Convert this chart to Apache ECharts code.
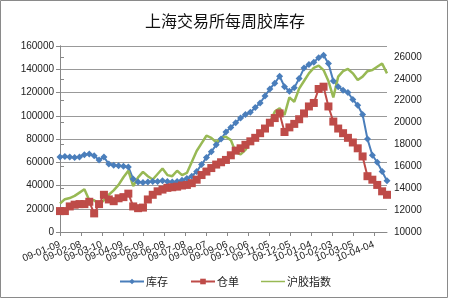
<!DOCTYPE html>
<html><head><meta charset="utf-8">
<script src="https://cdn.jsdelivr.net/npm/echarts@6/dist/echarts.min.js"></script>
<style>html,body{margin:0;padding:0;background:#fff}#c{width:450px;height:300px}</style>
</head><body><div id="c"></div>
<script>
const dates = [
 '2009-01-09','2009-01-16','2009-01-23','2009-01-30','2009-02-06','2009-02-13','2009-02-20','2009-02-27',
 '2009-03-06','2009-03-13','2009-03-20','2009-03-27','2009-04-03','2009-04-10','2009-04-17','2009-04-24',
 '2009-05-01','2009-05-08','2009-05-15','2009-05-22','2009-05-29','2009-06-05','2009-06-12','2009-06-19',
 '2009-06-26','2009-07-03','2009-07-10','2009-07-17','2009-07-24','2009-07-31','2009-08-07','2009-08-14',
 '2009-08-21','2009-08-28','2009-09-04','2009-09-11','2009-09-18','2009-09-25','2009-10-02','2009-10-09',
 '2009-10-16','2009-10-23','2009-10-30','2009-11-06','2009-11-13','2009-11-20','2009-11-27','2009-12-04',
 '2009-12-11','2009-12-18','2009-12-25','2010-01-01','2010-01-08','2010-01-15','2010-01-22','2010-01-29',
 '2010-02-05','2010-02-12','2010-02-19','2010-02-26','2010-03-05','2010-03-12','2010-03-19','2010-03-26',
 '2010-04-02','2010-04-09','2010-04-16','2010-04-23'];
const stock = [64500,65000,64500,64000,64500,66500,67000,65500,62000,64500,58500,57500,57000,56500,56000,45500,
 43000,42500,43000,43500,43500,44000,43500,43000,43500,44500,46000,48000,52000,58000,64000,69000,
 75000,80000,86000,90000,94000,98000,101000,103000,107000,111000,117000,123000,128000,134000,125000,121000,
 124000,132000,141000,144000,146000,150000,152000,145000,130000,125000,122000,120000,114000,109000,101000,80000,
 66000,60000,52000,44000];
const receipts = [18000,18000,22000,23500,24000,24000,26000,16000,24000,32000,28000,26500,29000,30000,33000,22000,
 20500,21000,28000,32000,35000,36500,38000,38500,39000,40000,40500,42000,45000,49000,52000,55000,
 58000,60000,62000,66000,70000,72000,75000,78000,81000,85000,89000,94000,98000,102000,86000,90000,
 93000,97000,102000,108000,111000,123000,125000,108000,95000,89000,85000,81000,77000,72000,65000,48000,
 45000,40500,35000,32000];
const index = [12600,13000,13100,13300,13600,13900,12900,12900,12500,12900,13400,13800,14300,15000,15600,14200,
 15000,15500,15100,14800,15300,15800,15200,15100,15600,15200,15400,16400,17400,18100,18800,18600,
 18200,18600,18700,18400,17300,17100,17500,18300,18700,19100,19500,20000,21000,21300,20700,22300,
 21900,23100,23800,24500,25000,25200,24800,23800,22300,24200,24700,24900,24500,23900,24200,24700,
 24800,25100,25400,24500];
const tickLabels = ['09-01-09','09-02-08','09-03-10','09-04-09','09-05-09','09-06-08','09-07-08','09-08-07',
 '09-09-06','09-10-06','09-11-05','09-12-05','10-01-04','10-02-03','10-03-05','10-04-04'];
const leftTicks = [0,20000,40000,60000,80000,100000,120000,140000,160000];
const rightTicks = [10000,12000,14000,16000,18000,20000,22000,24000,26000];

const day0 = Date.parse(dates[0]);
const dayOf = d => Math.round((Date.parse(d) - day0) / 86400000);
const pair = arr => arr.map((v, i) => [dayOf(dates[i]), v]);
const lastDay = dayOf(dates[dates.length - 1]);
const TICK_DAYS = 30;

const chart = echarts.init(document.getElementById('c'), null, {renderer: 'canvas'});
const labelFont = {fontFamily: 'Liberation Sans, Arial, sans-serif', fontSize: 10, color: '#222'};
// tick labels split over two overlaid axes (even / odd) so none are auto-hidden
const xLabel = parity => (v) => {
  const k = Math.round(v / TICK_DAYS);
  return (k % 2 === parity && tickLabels[k]) ? tickLabels[k] : '';
};
chart.setOption({
  animation: false,
  title: {text: '上海交易所每周胶库存', left: 'center', top: 8,
    textStyle: {fontFamily: 'Noto Sans CJK SC', fontSize: 16, fontWeight: 'normal', color: '#111'}},
  graphic: [{type: 'rect', shape: {x: 0.5, y: 0.5, width: 447, height: 297}, style: {fill: 'none', stroke: '#8a8a8a', lineWidth: 1}, silent: true}],
  legend: {bottom: 8, left: 'center', itemGap: 22, itemWidth: 24, itemHeight: 7,
    textStyle: {fontFamily: 'Noto Sans CJK SC', fontSize: 11, color: '#222', padding: [0,0,0,-3]},
    data: ['库存', '仓单', {name: '沪胶指数', icon: 'path://M0,3.5L24,3.5L24,5L0,5Z'}]},
  grid: {left: 60, right: 63, top: 46, bottom: 68},
  xAxis: [
    {type: 'value', min: 0, max: lastDay, interval: TICK_DAYS, position: 'bottom',
      axisLine: {lineStyle: {color: '#888'}}, axisTick: {length: 4, lineStyle: {color: '#888'}},
      splitLine: {show: false},
      axisLabel: Object.assign({rotate: 22, margin: 12, showMinLabel: true, showMaxLabel: false, hideOverlap: false,
        formatter: xLabel(0)}, labelFont)},
    {type: 'value', min: 0, max: lastDay, interval: TICK_DAYS, position: 'bottom', offset: 0,
      axisLine: {show: false}, axisTick: {show: false}, splitLine: {show: false},
      axisLabel: Object.assign({rotate: 22, margin: 12, showMinLabel: false, showMaxLabel: false, hideOverlap: false,
        formatter: xLabel(1)}, labelFont)}
  ],
  yAxis: [
    {type: 'value', min: leftTicks[0], max: leftTicks[leftTicks.length - 1], interval: 20000,
      axisLine: {show: true, lineStyle: {color: '#888'}}, axisTick: {show: true, length: 4, lineStyle: {color: '#888'}},
      splitLine: {lineStyle: {color: '#999', width: 1}},
      axisLabel: Object.assign({margin: 6, formatter: v => String(v)}, labelFont)},
    {type: 'value', min: rightTicks[0], max: 27000, interval: 2000,
      axisLine: {show: true, lineStyle: {color: '#888'}}, axisTick: {show: true, length: 4, lineStyle: {color: '#888'}},
      splitLine: {show: false},
      axisLabel: Object.assign({margin: 7, showMaxLabel: false,
        formatter: v => rightTicks.indexOf(v) >= 0 ? String(v) : ''}, labelFont)}
  ],
  series: [
    {name: '库存', type: 'line', xAxisIndex: 0, yAxisIndex: 0, data: pair(stock), symbol: 'diamond', symbolSize: 7,
      itemStyle: {color: '#4A7EBB'}, lineStyle: {color: '#4A7EBB', width: 2}},
    {name: '仓单', type: 'line', xAxisIndex: 0, yAxisIndex: 0, data: pair(receipts), symbol: 'rect', symbolSize: 8,
      itemStyle: {color: '#BE4B48'}, lineStyle: {color: '#BE4B48', width: 2}},
    {name: '沪胶指数', type: 'line', xAxisIndex: 0, yAxisIndex: 1, data: pair(index), symbol: 'none', showSymbol: false,
      itemStyle: {color: '#98B954'}, lineStyle: {color: '#98B954', width: 2.5}}
  ]
});
</script></body></html>
